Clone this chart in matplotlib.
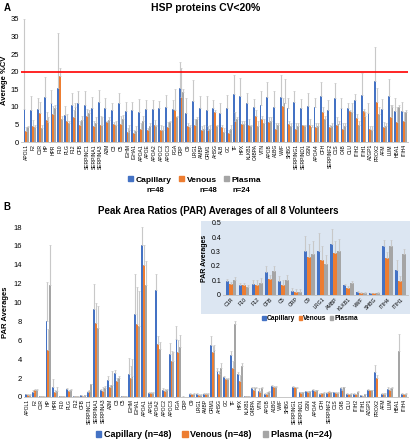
import matplotlib
matplotlib.use("Agg")
import matplotlib.pyplot as plt
from matplotlib.patches import Patch, Rectangle
import numpy as np

plt.rcParams['font.family'] = ['Liberation Sans', 'DejaVu Sans']

# panel A: %CV of the HSP proteins
names_a = ["APOL1", "F2", "C1R", "HP", "HPR", "F10", "PLG", "F12", "CFB", "SERPINC1",
           "SERPINA1", "SERPINA3", "A2M", "C3", "C5", "IGHM", "IGHA1", "APOA1", "APOE",
           "APOA2", "APOC2", "APOC3", "FGA", "CRP", "C9", "LRG1", "AMBP", "ORM1", "AHSG",
           "ALB", "GC", "TF", "HPX", "KLKB1", "C4BPA", "VTN", "APOB", "A1BG", "VWF", "SHBG",
           "SERPING1", "SERPIND1", "GSN", "APOA4", "CFH", "SERPINF2", "C1S", "C4B", "CLU",
           "ITIH2", "ITIH1", "AZGP1", "PROX2", "AFM", "LUM", "HBA1", "ITIH4"]
cv_cap = [9.3, 9.2, 9.5, 12.7, 11.1, 15.5, 7.8, 10.6, 11.0, 10.5, 9.7, 11.4, 9.6, 9.1, 11.0,
          8.9, 9.0, 8.6, 9.3, 9.3, 9.8, 10.1, 9.4, 15.3, 8.4, 11.8, 9.8, 9.1, 9.6, 8.2, 9.6,
          13.7, 13.1, 11.2, 10.0, 10.5, 12.8, 9.9, 12.9, 9.6, 11.4, 9.7, 10.3, 10.0, 13.2,
          9.2, 12.6, 9.8, 9.8, 12.1, 13.3, 8.2, 17.5, 9.4, 13.1, 8.9, 8.9]
cv_cap_err = [25.7, 3.8, 3.0, 5.8, 3.6, 15.5, 2.5, 3.3, 3.5, 4.0, 3.0, 3.3, 2.9, 2.1, 3.0,
              2.5, 2.5, 3.6, 2.7, 2.7, 2.0, 3.3, 2.5, 7.4, 4.0, 5.9, 3.4, 3.9, 2.4, 2.8, 3.9,
              5.5, 5.1, 2.8, 2.3, 3.9, 4.4, 4.6, 6.1, 2.9, 3.2, 2.5, 3.6, 2.5, 3.8, 2.8, 4.2,
              2.6, 1.4, 1.7, 6.2, 3.0, 9.5, 2.9, 4.7, 3.6, 2.6]
cv_ven = [3.2, 4.5, 8.3, 6.3, 8.1, 18.8, 6.0, 7.2, 4.9, 7.5, 4.6, 4.9, 5.8, 5.1, 5.2, 3.0,
          2.5, 3.7, 3.4, 4.9, 3.4, 4.4, 9.0, 12.8, 4.5, 4.8, 3.5, 3.5, 8.6, 4.4, 2.6, 6.1,
          5.1, 4.8, 7.5, 6.6, 5.8, 3.8, 10.4, 5.1, 3.7, 4.8, 4.8, 4.4, 8.5, 4.3, 4.9, 3.6,
          8.7, 6.9, 8.9, 3.8, 11.4, 4.4, 7.0, 5.6, 6.1]
cv_ven_err = [1.0, 1.7, 3.2, 2.2, 2.3, 2.2, 2.0, 1.8, 1.1, 2.0, 1.4, 2.4, 0.2, 0.6, 2.3,
              1.0, 1.0, 1.8, 0.6, 1.3, 1.4, 1.4, 6.0, 8.2, 1.0, 1.7, 1.0, 1.2, 0.4, 0.6,
              0.9, 2.4, 0.9, 1.7, 1.5, 0.9, 1.2, 1.7, 2.1, 0.9, 1.8, 0.2, 1.7, 1.1, 1.5,
              0.5, 2.1, 1.9, 0.3, 1.1, 0.6, 0.7, 4.1, 1.3, 3.5, 4.4, 2.4]
cv_pla = [4.2, 4.2, 3.9, 5.6, 9.7, 6.5, 5.5, 10.0, 6.2, 8.3, 5.5, 5.0, 6.2, 5.0, 6.5, 3.5,
          3.3, 6.0, 4.5, 4.5, 3.5, 5.8, 7.0, 14.2, 4.2, 6.5, 3.8, 3.8, 4.5, 3.0, 3.6, 6.5,
          5.2, 4.5, 4.5, 5.5, 6.0, 5.0, 11.2, 4.5, 4.5, 4.6, 4.2, 4.6, 6.6, 4.5, 5.2, 4.5,
          8.5, 5.0, 7.5, 3.5, 8.0, 4.5, 10.0, 10.0, 8.5]
cv_pla_err = [0.3, 0.8, 0.9, 1.4, 0.8, 1.0, 0.5, 1.0, 1.1, 0.7, 1.5, 2.0, 0.8, 1.0, 1.2,
              1.5, 1.2, 1.5, 1.0, 0.5, 1.0, 0.2, 0.5, 0.8, 0.8, 0.5, 1.2, 1.2, 0.5, 1.0,
              1.4, 0.5, 0.8, 0.5, 1.5, 1.0, 1.0, 0.5, 6.8, 1.0, 1.0, 0.4, 0.8, 0.9, 0.9,
              1.0, 0.8, 1.0, 2.5, 1.0, 1.0, 1.0, 2.0, 1.0, 0.5, 0.5, 0.5]

# panel B: peak area ratios
names_b = [n for n in names_a if n != "ALB"]
par_cap = [0.3, 0.55, 0.095, 8.05, 1.1, 0.065, 0.8, 0.075, 0.16, 0.5, 9.35, 0.7, 1.75, 2.5,
           0.095, 2.4, 8.75, 16.1, 0.4, 11.3, 0.7, 4.5, 6.15, 0.025, 0.305, 0.305, 0.35,
           5.45, 2.75, 2.1, 4.45, 2.4, 0.065, 0.95, 0.6, 0.35, 1.15, 0.02, 0.01, 1.05, 0.5,
           0.6, 0.75, 0.35, 0.45, 0.5, 0.9, 0.35, 0.35, 0.175, 0.75, 2.6, 0.35, 0.85, 0.0, 0.34]
par_cap_err = [0.05, 0.2, 0.015, 4.15, 0.8, 0.02, 0.1, 0.03, 0.04, 0.1, 2.65, 0.1, 0.5, 0.35,
               0.035, 1.7, 4.25, 1.9, 0.15, 1.7, 0.25, 1.25, 1.4, 0.025, 0.1, 0.12, 0.105,
               0.95, 0.3, 0.15, 0.4, 0.2, 0.01, 0.15, 0.3, 0.05, 0.1, 0.005, 0.005, 0.1,
               0.05, 0.05, 0.1, 0.05, 0.05, 0.05, 0.15, 0.05, 0.05, 0.065, 0.1, 0.75, 0.05,
               0.2, 0.0, 0.04]
par_ven = [0.25, 0.7, 0.075, 5.0, 0.5, 0.065, 0.65, 0.07, 0.11, 0.65, 7.8, 0.6, 1.0, 1.7,
           0.07, 2.0, 7.7, 14.0, 0.45, 5.65, 0.65, 3.85, 4.8, 0.02, 0.265, 0.24, 0.29,
           4.8, 2.45, 1.85, 3.05, 1.7, 0.05, 0.7, 0.5, 0.35, 1.05, 0.015, 0.01, 1.0, 0.45,
           0.55, 0.65, 0.4, 0.55, 0.45, 0.75, 0.3, 0.3, 0.095, 0.7, 2.0, 0.35, 0.75, 0.0, 0.255]
par_ven_err = [0.05, 0.15, 0.015, 2.2, 0.2, 0.02, 0.1, 0.03, 0.03, 0.1, 2.1, 0.4, 0.3, 0.3,
               0.03, 1.3, 3.9, 2.1, 0.05, 0.75, 0.2, 1.05, 1.2, 0.02, 0.085, 0.1, 0.085,
               0.6, 0.25, 0.15, 0.75, 0.6, 0.01, 0.3, 0.1, 0.15, 0.1, 0.005, 0.005, 0.1,
               0.05, 0.05, 0.1, 0.05, 0.05, 0.05, 0.1, 0.05, 0.05, 0.035, 0.05, 0.3, 0.05,
               0.2, 0.0, 0.045]
par_pla = [0.25, 0.75, 0.105, 11.9, 0.6, 0.055, 0.75, 0.08, 0.165, 1.35, 7.3, 0.95, 1.3, 2.0,
           0.105, 2.25, 7.55, 11.85, 0.45, 5.05, 0.75, 3.85, 5.3, 0.02, 0.285, 0.215, 0.305,
           4.95, 3.1, 1.85, 7.7, 3.25, 0.085, 0.95, 0.9, 0.5, 1.1, 0.015, 0.012, 0.95, 0.5,
           0.6, 0.7, 0.45, 0.5, 0.45, 1.0, 0.35, 0.5, 0.28, 0.7, 0.0, 0.35, 0.95, 4.85, 0.34]
par_pla_err = [0.05, 0.1, 0.015, 4.2, 0.4, 0.01, 0.1, 0.035, 0.035, 0.05, 2.3, 0.25, 1.45,
               0.2, 0.03, 1.75, 3.7, 2.55, 0.05, 0.75, 0.05, 0.9, 1.3, 0.02, 0.085, 0.06,
               0.085, 0.55, 0.5, 0.15, 0.3, 0.35, 0.01, 0.15, 0.15, 0.1, 0.1, 0.005, 0.008,
               0.1, 0.05, 0.05, 0.05, 0.05, 0.05, 0.05, 0.1, 0.05, 0.1, 0.04, 0.05, 0.0,
               0.05, 0.15, 1.85, 0.04]

# inset: low abundance proteins
names_in = ["C1R", "F10", "F12", "CFB", "C5", "CRP", "C9", "LRG1", "AMBP", "KLKB1",
            "VWF", "SHBG", "ITIH4", "ITIH1"]

c_cap, c_ven, c_pla = "#4472C4", "#ED7D31", "#A5A5A5"
c_err = "#C8C8C8"
bw = 0.28


def grouped(ax, series, errs):
    n = len(series[0])
    x = np.arange(n)
    for k, (vals, err, col) in enumerate(zip(series, errs, [c_cap, c_ven, c_pla])):
        xs = x + (k - 1) * bw
        ax.bar(xs, vals, bw, color=col, zorder=2)
        ax.errorbar(xs, vals, yerr=[np.zeros(n), err], fmt="none", ecolor=c_err,
                    elinewidth=0.8, capsize=1.0, capthick=0.5, zorder=3)
    for s in ["top", "right", "left"]:
        ax.spines[s].set_visible(False)
    ax.spines["bottom"].set_color("#BFBFBF")
    ax.spines["bottom"].set_linewidth(0.6)
    ax.tick_params(length=0, pad=1.5)
    ax.tick_params(axis="y", labelsize=5.5)
    ax.set_xticks(x)
    ax.set_facecolor("none")
    return x


fig = plt.figure(figsize=(4.11, 4.40), dpi=100)

# ---- A ----
axa = fig.add_axes([0.051, 0.677, 0.942, 0.280])
grouped(axa, [cv_cap, cv_ven, cv_pla], [cv_cap_err, cv_ven_err, cv_pla_err])
axa.set_xticklabels(names_a, rotation=90, fontsize=3.6)
axa.set_xlim(-0.8, 56.6)
axa.set_ylim(0, 35)
axa.set_yticks(range(0, 36, 5))
axa.axhline(20, color="#FF0000", lw=1.2, zorder=4)
axa.set_ylabel("Average %CV", fontsize=5.5, fontweight="bold", labelpad=2)

fig.text(0.008, 0.982, "A", fontsize=7, fontweight="bold", va="center")
fig.text(0.5, 0.982, "HSP proteins CV<20%", fontsize=7.5, fontweight="bold",
         ha="center", va="center")

handles = [Patch(color=c) for c in [c_cap, c_ven, c_pla]]
axa.legend(handles, ["Capillary", "Venous", "Plasma"], ncol=3, frameon=False,
           loc="center", bbox_to_anchor=(0.474, 0.591), bbox_transform=fig.transFigure,
           handlelength=0.6, handleheight=0.6, handletextpad=0.3, columnspacing=0.9,
           prop={"size": 6, "weight": "bold"})
for xt, t in zip([0.377, 0.506, 0.587], ["n=48", "n=48", "n=24"]):
    fig.text(xt, 0.568, t, fontsize=5.5, fontweight="bold", ha="center", va="center")

# ---- B ----
# light blue panel behind the inset chart
fig.patches.append(Rectangle((0.489, 0.286), 0.509, 0.211, transform=fig.transFigure,
                             facecolor="#DCE6F2", edgecolor="none", zorder=-1))

axb = fig.add_axes([0.058, 0.098, 0.935, 0.386])
grouped(axb, [par_cap, par_ven, par_pla], [par_cap_err, par_ven_err, par_pla_err])
axb.set_xticklabels(names_b, rotation=90, fontsize=3.6)
axb.set_xlim(-0.6, 55.6)
axb.set_ylim(0, 18)
axb.set_yticks(range(0, 19, 2))
axb.set_ylabel("PAR Averages", fontsize=5.5, fontweight="bold", labelpad=3)

fig.text(0.008, 0.530, "B", fontsize=7, fontweight="bold", va="center")
fig.text(0.53, 0.520, "Peak Area Ratios (PAR) Averages of all 8 Volunteers", fontsize=7,
         fontweight="bold", ha="center", va="center")
axb.legend(handles, ["Capillary (n=48)", "Venous (n=48)", "Plasma (n=24)"], ncol=3,
           frameon=False, loc="center", bbox_to_anchor=(0.52, 0.012),
           bbox_transform=fig.transFigure, handlelength=0.6, handleheight=0.6,
           handletextpad=0.3, columnspacing=1.2, prop={"size": 6.5, "weight": "bold"})

# ---- inset ----
axi = fig.add_axes([0.543, 0.330, 0.450, 0.164])
idx = [names_b.index(n) for n in names_in]
grouped(axi, [[par_cap[i] for i in idx], [par_ven[i] for i in idx], [par_pla[i] for i in idx]],
        [[par_cap_err[i] for i in idx], [par_ven_err[i] for i in idx],
         [par_pla_err[i] for i in idx]])
axi.set_xticklabels(names_in, rotation=45, ha="right", rotation_mode="anchor", fontsize=3.8)
axi.tick_params(axis="y", labelsize=5)
axi.set_xlim(-0.6, 13.6)
axi.set_ylim(0, 0.5)
axi.set_yticks([0, 0.1, 0.2, 0.3, 0.4, 0.5])
axi.set_yticklabels(["0", "0.1", "0.2", "0.3", "0.4", "0.5"])
axi.set_ylabel("PAR Averages", fontsize=5, fontweight="bold", labelpad=2)
axi.legend(handles, ["Capillary", "Venous", "Plasma"], ncol=3, frameon=False,
           loc="center", bbox_to_anchor=(0.755, 0.275), bbox_transform=fig.transFigure,
           handlelength=0.5, handleheight=0.5, handletextpad=0.2, columnspacing=0.5,
           prop={"size": 4.8, "weight": "bold"})

fig.savefig("out.png", dpi=100)
